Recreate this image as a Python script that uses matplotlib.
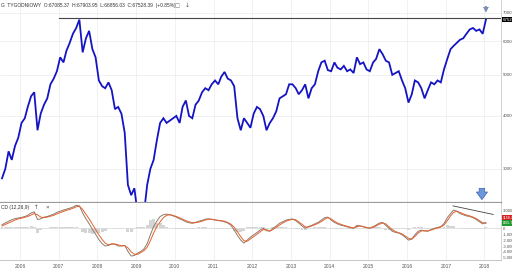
import pandas as pd
import matplotlib
matplotlib.use("Agg")
import matplotlib.pyplot as plt
import matplotlib.transforms as mtransforms

plt.rcParams["font.family"] = ["Liberation Sans", "DejaVu Sans"]

# WIG tygodniowy - wartosci (mniej wiecej koniec miesiaca), lip 2005 - sty 2018
wig = [28500, 30000, 33000, 31500, 34000, 35500,
       38500, 39500, 42000, 44500, 45500, 37000, 40500, 42500, 44000, 47500, 49000, 51000,
       55000, 53500, 57000, 59500, 62500, 64500, 67500, 56500, 61000, 63500, 57500, 55000,
       48500, 47000, 46500, 48000, 46000, 41500, 42000, 40500, 36500, 27500, 26000, 27000,
       23500, 21000, 23500, 27500, 30000, 31500, 35000, 38500, 39500, 38500, 39000, 39500,
       40000, 38500, 42000, 43500, 40000, 39500, 42500, 43500, 45500, 46500, 46000, 47500,
       48500, 47500, 49500, 50800, 49000, 48500, 47000, 39500, 37000, 39500, 38500, 37500,
       40500, 42000, 41500, 40000, 37000, 38500, 39500, 41000, 44000, 44500, 45000, 47500,
       47500, 46500, 45000, 46000, 47500, 44000, 46500, 47500, 51000, 53500, 54000, 51300,
       51000, 53500, 52000, 51500, 52500, 51000, 51500, 50500, 55000, 53000, 53500, 51500,
       51000, 53500, 54500, 57500, 56000, 54000, 53500, 50000, 50500, 51000, 48500, 46500,
       43000, 45000, 48500, 48000, 46500, 44000, 46000, 48000, 47500, 48500, 48000, 51500,
       54500, 57500, 58500, 59500, 60500, 61000, 62500, 64000, 64500, 63500, 64000, 62500,
       67528]

# MACD (12,26,9)
macd = [600, 900, 1200, 1450, 1650, 1750,
        1850, 2000, 2200, 2600, 2800, 1500, 1600, 1900, 2000, 2200, 2400, 2700,
        2900, 3100, 3250, 3400, 3600, 3900, 3800, 2600, 1600, 800, -200, -1000,
        -1900, -2600, -3000, -2900, -2600, -2700, -3000, -3000, -2900, -3900, -4700, -4600,
        -4200, -3900, -3500, -2600, -1100, 300, 1200, 2000, 2300, 2400, 2300, 2100,
        1900, 1600, 1400, 1100, 950, 850, 1000, 1200, 1350, 1550, 1600, 1500,
        1400, 1300, 1250, 1100, 900, 500, -300, -1200, -2000, -2500, -2000, -1500,
        -1100, -700, -300, 0, -400, -500, 0, 400, 850, 1100, 1400, 1500,
        1600, 1300, 900, 400, 0, 300, 500, 750, 1000, 1400, 1800, 1900,
        1400, 1000, 750, 550, 400, 250, 100, 0, 500, 400, 250, 100,
        0, 300, 550, 900, 1000, 500, 0, -500, -700, -800, -1100, -1500,
        -2000, -1800, -1100, -500, -300, -450, -500, -200, 0, 150, 300, 800,
        1800, 2500, 3100, 2900, 2500, 2300, 2100, 2000, 1800, 1500, 1100, 750,
        1000]

signal = [400, 650, 900, 1150, 1400, 1600,
          1700, 1850, 2000, 2250, 2500, 2300, 1900, 1800, 1900, 2050, 2200, 2450,
          2650, 2850, 3050, 3200, 3400, 3650, 3750, 3200, 2400, 1600, 700, -200,
          -1100, -1900, -2500, -2800, -2700, -2650, -2800, -2950, -2950, -3300, -4000, -4400,
          -4400, -4100, -3800, -3200, -2100, -800, 300, 1100, 1800, 2200, 2300, 2200,
          2000, 1800, 1550, 1300, 1100, 950, 950, 1050, 1200, 1400, 1550, 1550,
          1450, 1350, 1300, 1200, 1000, 700, 200, -600, -1400, -2100, -2200, -1800,
          -1400, -1000, -600, -200, -250, -450, -200, 150, 550, 900, 1200, 1400,
          1500, 1450, 1100, 700, 250, 200, 400, 600, 850, 1150, 1550, 1800,
          1600, 1200, 900, 700, 500, 350, 200, 50, 300, 400, 300, 150,
          50, 150, 400, 700, 900, 750, 250, -250, -550, -750, -950, -1300,
          -1700, -1850, -1400, -800, -450, -400, -450, -300, -100, 50, 200, 550,
          1300, 2100, 2700, 2900, 2700, 2450, 2250, 2100, 1900, 1650, 1300, 950,
          850]

hist = [200, 250, 300, 300, 250, 150,
        150, 150, 200, 350, 300, -800, -300, 100, 100, 150, 200, 250,
        250, 250, 200, 200, 200, 250, 50, -600, -800, -800, -900, -800,
        -800, -700, -500, -100, 100, -50, -200, -50, 50, -600, -700, -200,
        200, 200, 300, 600, 1400, 1500, 900, 900, 500, 200, 0, -100,
        -100, -200, -150, -200, -150, -100, 50, 150, 150, 150, 50, -50,
        -50, -50, -50, -100, -100, -200, -500, -600, -600, -400, 200, 300,
        300, 300, 300, 200, -150, -50, 200, 250, 300, 200, 200, 100,
        100, -150, -200, -300, -250, 100, 100, 150, 150, 250, 250, 100,
        -200, -200, -150, -150, -100, -100, -100, -50, 200, 0, -50, -50,
        -50, 150, 150, 200, 100, -250, -250, -250, -150, -50, -150, -200,
        -300, 50, 300, 300, 150, -50, -50, 100, 100, 100, 100, 250,
        500, 400, 400, 0, -200, -150, -150, -100, -100, -150, -200, -200,
        150]

months = pd.date_range("2005-07-01", periods=len(wig), freq="MS") + pd.Timedelta(days=14)

price_ticks = [30000, 40000, 50000, 60000, 70000]
macd_ticks = [3000, 2000, 1000, 0, -1000, -2000, -3000, -4000, -5000]
macd_labels = ["3.000", "2.000", "1.000", "0", "-1.000", "-2.000", "-3.000", "-4.000", "-5.000"]
years = list(range(2006, 2019))

resistance = 68000
trend_x = ["2017-03-10", "2018-03-25"]
trend_y = [3800, 2350]

header = "G  TYGODNIOWY  O:67085.37  H:67903.95  L:66856.03  C:67528.39  (+0.85%)"

x0, x1 = pd.Timestamp("2005-06-26"), pd.Timestamp("2018-06-06")

fig = plt.figure(figsize=(5.12, 2.70), dpi=100)
ax = fig.add_axes([0, 1 - 203 / 270, 501 / 512, 203 / 270])
ax2 = fig.add_axes([0, 10 / 270, 501 / 512, 57 / 270], sharex=ax)

# wykres glowny
ax.plot(months, wig, color="#1414c4", lw=1.3, solid_joinstyle="miter")
ax.set_yscale("log")
ax.set_ylim(24920, 75100)
ax.set_xlim(x0, x1)
ax.set_yticks(price_ticks)
ax.set_yticklabels([str(v) for v in price_ticks])
ax.yaxis.set_minor_locator(plt.NullLocator())
ax.yaxis.tick_right()
ax.tick_params(axis="y", length=0, labelsize=3.2, pad=1.5, colors="#555555")
ax.tick_params(axis="x", length=0, labelbottom=False)
ax.set_xticks([pd.Timestamp(f"{y}-01-01") for y in years])
ax.grid(color="#ebebeb", lw=0.5)
ax.set_axisbelow(True)
for s in ["top", "left"]:
    ax.spines[s].set_visible(False)
ax.spines["right"].set_color("#cccccc")
ax.spines["right"].set_linewidth(0.6)
ax.spines["bottom"].set_color("#9a9a9a")
ax.spines["bottom"].set_linewidth(1.6)

ax.plot([pd.Timestamp("2007-01-01"), x1], [resistance, resistance], color="#444444", lw=0.8)

tr = mtransforms.blended_transform_factory(ax.transAxes, ax.transData)
ax.text(1.004, wig[-1], str(int(wig[-1])), transform=tr, fontsize=3.2, color="white",
        va="center", ha="left", bbox=dict(fc="black", ec="none", pad=0.6))

last = months[-1]
ax.annotate("", xy=(last, 69300), xytext=(last, 73600),
            arrowprops=dict(arrowstyle="simple,head_width=0.35,head_length=0.35,tail_width=0.12",
                            fc="#7f93b8", ec="#5a6f95", lw=0.3))
big = pd.Timestamp("2017-12-08")
ax.annotate("", xy=(big, 25000), xytext=(big, 27400),
            arrowprops=dict(arrowstyle="simple,head_width=0.8,head_length=0.55,tail_width=0.4",
                            fc="#6e96da", ec="#3d63aa", lw=0.5))

fig.text(0.002, 1 - 5.5 / 270, header, fontsize=3.5, color="#333333", va="center", ha="left")
fig.text(175 / 512, 1 - 5.5 / 270, "\u25a1", fontsize=3.8, color="#777777", va="center",
         family="DejaVu Sans")
fig.text(185 / 512, 1 - 5.5 / 270, "\u2193", fontsize=4.2, color="#555555", va="center",
         family="DejaVu Sans")

# MACD
ax2.bar(months, hist, width=28, color="#d4d4d4", lw=0)
ax2.axhline(0, color="#dddddd", lw=0.6)
ax2.plot(months, macd, color="#8c7a6c", lw=0.7)
ax2.plot(months, signal, color="#e4602c", lw=0.7)
ax2.plot(pd.to_datetime(trend_x), trend_y, color="#444444", lw=0.6)
ax2.set_ylim(-5370, 4290)
ax2.set_yticks(macd_ticks)
ax2.set_yticklabels(macd_labels)
ax2.yaxis.tick_right()
ax2.tick_params(axis="y", length=0, labelsize=3.1, pad=1.5, colors="#555555")
ax2.set_xticks([pd.Timestamp(f"{y}-01-01") for y in years])
ax2.set_xticklabels([str(y) for y in years])
ax2.tick_params(axis="x", length=0, labelsize=3.6, pad=3, colors="#555555")
ax2.grid(axis="x", color="#ebebeb", lw=0.5)
ax2.set_axisbelow(True)
for s in ["top", "left"]:
    ax2.spines[s].set_visible(False)
ax2.spines["right"].set_color("#cccccc")
ax2.spines["right"].set_linewidth(0.6)
ax2.spines["bottom"].set_color("#bbbbbb")
ax2.spines["bottom"].set_linewidth(0.6)

tr2 = mtransforms.blended_transform_factory(ax2.transAxes, ax2.transData)
ax2.text(1.004, 1750, "1158.4", transform=tr2, fontsize=2.6, color="white",
         va="center", ha="left", bbox=dict(fc="#d42020", ec="none", pad=0.4))
ax2.text(1.004, 900, "891.7", transform=tr2, fontsize=3.1, color="white",
         va="center", ha="left", bbox=dict(fc="#1e9a2e", ec="none", pad=0.6))

ax2.text(0.001, 3550, "CD (12,26,9)", transform=tr2, fontsize=3.5, color="#333333", va="center")
ax2.text(0.068, 3550, "\u2191", transform=tr2, fontsize=4, color="#444444", va="center",
         family="DejaVu Sans")
ax2.text(0.09, 3550, "\u00d7", transform=tr2, fontsize=4.5, color="#444444", va="center")

fig.savefig("out.png", dpi=100, facecolor="white")
